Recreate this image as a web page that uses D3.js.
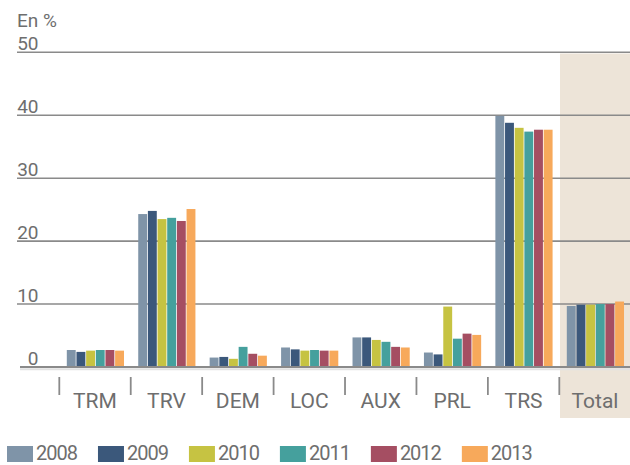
<!DOCTYPE html>
<html>
<head>
<meta charset="utf-8">
<script src="https://cdn.jsdelivr.net/npm/d3@7"></script>
<style>
  body { margin: 0; background: #fff; }
  text { font-family: Roboto, "DejaVu Sans", sans-serif; fill: #6e6e6e; }
</style>
</head>
<body>
<div id="chart"></div>
<script>

var categories = ["TRM", "TRV", "DEM", "LOC", "AUX", "PRL", "TRS", "Total"];
var years = ["2008", "2009", "2010", "2011", "2012", "2013"];
var colors = ["#7f94a8", "#3b587b", "#c6c342", "#45a09d", "#a54e62", "#f7a95b"];
var yTicks = [0, 10, 20, 30, 40, 50];

// one array per year, in the order of categories
var v2008 = [2.7, 24.3, 1.5, 3.1, 4.7, 2.3, 39.9, 9.7];
var v2009 = [2.4, 24.8, 1.6, 2.8, 4.7, 2.0, 38.8, 9.9];
var v2010 = [2.6, 23.5, 1.3, 2.6, 4.3, 9.6, 38.0, 9.9];
var v2011 = [2.7, 23.7, 3.2, 2.7, 4.0, 4.5, 37.4, 10.0];
var v2012 = [2.7, 23.2, 2.1, 2.6, 3.2, 5.3, 37.7, 10.0];
var v2013 = [2.6, 25.1, 1.8, 2.6, 3.1, 5.1, 37.7, 10.4];
var series = [v2008, v2009, v2010, v2011, v2012, v2013];

var W = 630, H = 465;

var svg = d3.select("#chart").append("svg")
    .attr("width", W)
    .attr("height", H);

var x = d3.scaleBand()
    .domain(categories)
    .range([59.3, 59.3 + 71.43 * categories.length]);

var xi = d3.scaleBand()
    .domain(years)
    .range([7.5, 64.7])
    .paddingInner(0.08);

var y = d3.scaleLinear()
    .domain([0, 50])
    .range([367, 52.3]);

// background of the Total column
svg.append("rect")
    .attr("x", x("Total") + 0.7)
    .attr("y", 53.5)
    .attr("width", W - x("Total"))
    .attr("height", 418 - 53.5)
    .style("fill", "#ede4d8");

// gridlines
svg.selectAll(".grid")
    .data(yTicks.filter(function(d) { return d > 0; }))
    .enter().append("line")
    .attr("x1", 17)
    .attr("x2", W)
    .attr("y1", function(d) { return y(d); })
    .attr("y2", function(d) { return y(d); })
    .style("stroke", "#8a8a8a")
    .style("stroke-width", 1.6);

// y tick labels
svg.selectAll(".ylab")
    .data(yTicks)
    .enter().append("text")
    .attr("x", 38.5)
    .attr("y", function(d) { return y(d) - 2; })
    .attr("text-anchor", "end")
    .style("font-size", "19px")
    .text(function(d) { return d; });

svg.append("text")
    .attr("x", 17)
    .attr("y", 26.5)
    .style("font-size", "19px")
    .text("En %");

// bars
var groups = svg.selectAll(".cat")
    .data(categories)
    .enter().append("g")
    .attr("transform", function(d) { return "translate(" + x(d) + ",0)"; });

groups.selectAll("rect")
    .data(function(c, ci) {
        return years.map(function(yr, i) { return { year: yr, i: i, value: series[i][ci] }; });
    })
    .enter().append("rect")
    .attr("x", function(d) { return xi(d.year); })
    .attr("width", xi.bandwidth())
    .attr("y", function(d) { return y(d.value); })
    .attr("height", function(d) { return y(0) - y(d.value); })
    .style("fill", function(d) { return colors[d.i]; });

// zero baseline with a light shadow
svg.append("line")
    .attr("x1", 20).attr("x2", W)
    .attr("y1", y(0) + 2.2).attr("y2", y(0) + 2.2)
    .style("stroke", "#e2e2e2")
    .style("stroke-width", 2);
svg.append("line")
    .attr("x1", 20).attr("x2", W)
    .attr("y1", y(0)).attr("y2", y(0))
    .style("stroke", "#8a8a8a")
    .style("stroke-width", 1.8);

// category separators and labels
svg.selectAll(".sep")
    .data(categories)
    .enter().append("line")
    .attr("x1", function(d) { return x(d); })
    .attr("x2", function(d) { return x(d); })
    .attr("y1", 377)
    .attr("y2", 395)
    .style("stroke", "#8a8a8a")
    .style("stroke-width", 1.8);

svg.selectAll(".xlab")
    .data(categories)
    .enter().append("text")
    .attr("x", function(d) { return x(d) + x.bandwidth() / 2; })
    .attr("y", 408)
    .attr("text-anchor", "middle")
    .style("font-size", "21px")
    .text(function(d) { return d; });

// legend
var lx = 7;
years.forEach(function(yr, i) {
    svg.append("rect")
        .attr("x", lx)
        .attr("y", 446)
        .attr("width", 26)
        .attr("height", 16)
        .style("fill", colors[i]);
    var t = svg.append("text")
        .attr("x", lx + 29)
        .attr("y", 460)
        .style("font-size", "20px")
        .style("letter-spacing", "-1px")
        .text(yr);
    lx += 29 + t.node().getComputedTextLength() + 21;
});

</script>
</body>
</html>
